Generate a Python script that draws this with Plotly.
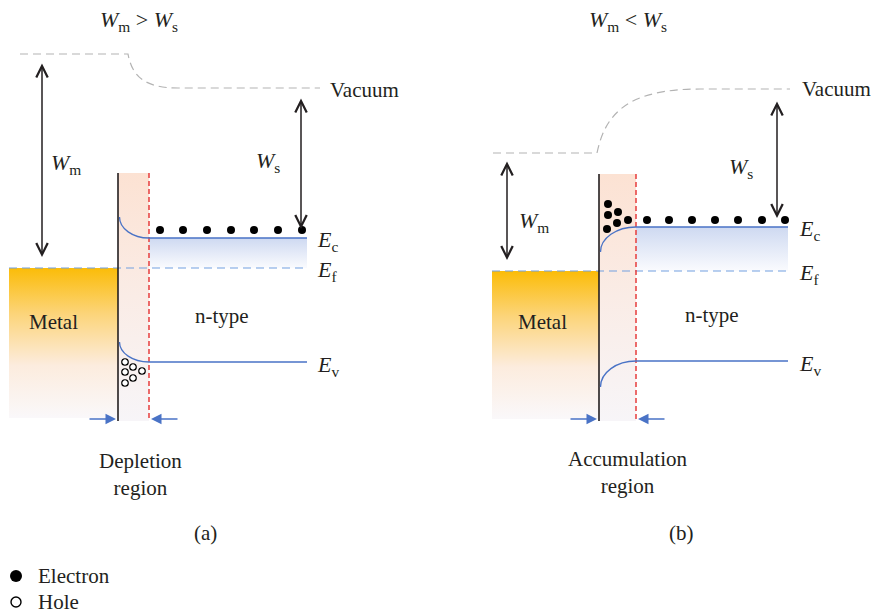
import plotly.graph_objects as go

# ---- canvas -------------------------------------------------------------
W, H = 875, 614
FONT = "Liberation Serif, Times New Roman, serif"
INK = "#231f20"
BAND_BLUE = "#4a73c6"
FERMI_BLUE = "#72a0e0"
ARROW_BLUE = "#4a73c6"
RED = "#e63c3c"
GREY = "#b3b3b3"

# ---- two band diagrams: (a) depletion, (b) accumulation ----------------
titles = ["<i>W</i><sub>m</sub> &gt; <i>W</i><sub>s</sub>",
          "<i>W</i><sub>m</sub> &lt; <i>W</i><sub>s</sub>"]
region_names = ["Depletion<br>region", "Accumulation<br>region"]
panel_tags = ["(a)", "(b)"]

metal_left_x = [9, 492]
interface_x = [118, 599]
depl_edge_x = [149, 636]
band_end_x = [307, 788]
junction_top_y = [173, 174]
junction_bottom_y = [421, 421]
metal_bottom_y = [418, 419]

fermi_y = [268, 271]
ec_y = [238, 227]
ec_wall_y = [217, 252]
ev_y = [362, 361]
ev_wall_y = [342, 387]

vac_start_x = [20, 493]
vac_bend_x = [128, 597]
vac_settle_x = [178, 700]
vac_end_x = [320, 790]
vac_metal_y = [54, 153]
vac_semi_y = [88, 89]

# work-function arrows: x, top, bottom
wm_arrow_x = [42, 507]
wm_arrow_y = [(62, 257), (160, 260)]
ws_arrow_x = [301, 777]
ws_arrow_y = [(97, 229), (100, 218)]

# carriers
electron_row_x = [[160, 183, 207, 231, 254, 278, 302],
                  [628, 647, 669, 692, 715, 738, 762, 785]]
electron_row_y = [230, 220]
electron_cluster_x = [608, 608, 618, 617, 607]
electron_cluster_y = [204, 215, 212, 223, 229]
hole_x = [125, 133, 142, 125, 133, 125]
hole_y = [362, 367, 371, 372, 378, 383]

# label positions
title_pos = [(139, 21), (628, 21)]
vacuum_pos = [(328, 90), (800, 89)]
wm_label_pos = [(66, 164), (534, 222)]
ws_label_pos = [(268, 162), (741, 168)]
level_label_x = [315, 797]
metal_label_pos = [(53, 322), (542, 322)]
ntype_label_pos = [(222, 316), (712, 315)]
region_label_pos = [(140, 474), (627, 472)]
tag_pos = [(205, 533), (681, 533)]
width_arrow_y = [419, 419]

legend_labels = ["Electron", "Hole"]
legend_y = [576, 602]

fig = go.Figure()
shapes = []
annotations = []


def add_gradient_box(x0, x1, y0, y1, scale):
    fig.add_trace(go.Scatter(
        x=[x0, x1, x1, x0, x0], y=[y0, y0, y1, y1, y0],
        mode="none", fill="toself", hoverinfo="skip", showlegend=False,
        fillgradient=dict(type="vertical", colorscale=scale, start=y0, stop=y1),
    ))


def text(x, y, s, size=21, xanchor="center"):
    annotations.append(dict(x=x, y=y, xref="x", yref="y", text=s, showarrow=False,
                            xanchor=xanchor, yanchor="middle",
                            font=dict(family=FONT, size=size, color=INK)))


def arrow(x_tip, y_tip, x_tail, y_tail, color, width, head, size, both=False):
    annotations.append(dict(
        x=x_tip, y=y_tip, ax=x_tail, ay=y_tail, xref="x", yref="y", axref="x", ayref="y",
        text="", showarrow=True, arrowcolor=color, arrowwidth=width,
        arrowhead=head, arrowsize=size, startarrowhead=head, startarrowsize=size,
        arrowside="end+start" if both else "end", standoff=0, startstandoff=0))


metal_scale = [[0, "rgb(251,188,8)"], [0.3, "rgb(252,212,120)"],
               [0.65, "rgb(252,236,222)"], [1, "rgb(250,248,250)"]]
depl_scale = [[0, "rgb(252,226,211)"], [0.5, "rgb(250,236,230)"], [1, "rgb(247,245,248)"]]
cb_scale = [[0, "rgb(206,217,241)"], [1, "rgb(250,251,254)"]]

for i in range(2):
    xi, xd, xe = interface_x[i], depl_edge_x[i], band_end_x[i]

    # filled regions
    add_gradient_box(metal_left_x[i], xi, fermi_y[i], metal_bottom_y[i], metal_scale)
    add_gradient_box(xi, xd, junction_top_y[i], junction_bottom_y[i], depl_scale)
    add_gradient_box(xd, xe, ec_y[i], fermi_y[i], cb_scale)

    # vacuum level
    vm, vs, xb, xs = vac_metal_y[i], vac_semi_y[i], vac_bend_x[i], vac_settle_x[i]
    d = xs - xb
    shapes.append(dict(
        type="path", xref="x", yref="y", layer="above",
        path=(f"M{vac_start_x[i]},{vm} L{xb},{vm} "
              f"C{xb + 0.08 * d},{vm + 0.62 * (vs - vm)} {xb + 0.3 * d},{vs} {xs},{vs} "
              f"L{vac_end_x[i]},{vs}"),
        line=dict(color=GREY, width=1.2, dash="8px,5px")))

    # Fermi level
    fig.add_trace(go.Scatter(x=[metal_left_x[i], xe], y=[fermi_y[i], fermi_y[i]], mode="lines",
                             line=dict(color=FERMI_BLUE, width=1.2, dash="8px,5px"),
                             hoverinfo="skip", showlegend=False))

    # conduction and valence bands (bent inside the junction region)
    for wall, flat in ((ec_wall_y[i], ec_y[i]), (ev_wall_y[i], ev_y[i])):
        x0 = xi + 1.5
        k = 0.552
        shapes.append(dict(
            type="path", xref="x", yref="y", layer="above",
            path=(f"M{x0},{wall} C{x0},{wall + k * (flat - wall)} "
                  f"{xd - k * (xd - x0)},{flat} {xd},{flat} L{xe},{flat}"),
            line=dict(color=BAND_BLUE, width=1.3)))

    # interface and depletion edge
    fig.add_trace(go.Scatter(x=[xi, xi], y=[junction_top_y[i], junction_bottom_y[i]], mode="lines",
                             line=dict(color=INK, width=1.6), hoverinfo="skip", showlegend=False))
    fig.add_trace(go.Scatter(x=[xd, xd], y=[junction_top_y[i], junction_bottom_y[i]], mode="lines",
                             line=dict(color=RED, width=1.5, dash="5px,3px"),
                             hoverinfo="skip", showlegend=False))

    # electrons along the conduction band
    fig.add_trace(go.Scatter(x=electron_row_x[i], y=[electron_row_y[i]] * len(electron_row_x[i]),
                             mode="markers", marker=dict(size=8, color="black"),
                             hoverinfo="skip", showlegend=False))

    # work-function arrows
    arrow(wm_arrow_x[i], wm_arrow_y[i][1], wm_arrow_x[i], wm_arrow_y[i][0], INK, 1.5, 5, 1.5, True)
    arrow(ws_arrow_x[i], ws_arrow_y[i][1], ws_arrow_x[i], ws_arrow_y[i][0], INK, 1.5, 5, 1.5, True)

    # junction width arrows
    arrow(xi - 2, width_arrow_y[i], xi - 30, width_arrow_y[i], ARROW_BLUE, 1.5, 2, 1.4)
    arrow(xd + 2, width_arrow_y[i], xd + 30, width_arrow_y[i], ARROW_BLUE, 1.5, 2, 1.4)

    # labels
    text(*title_pos[i], titles[i], size=22)
    text(*vacuum_pos[i], "Vacuum", xanchor="left")
    text(*wm_label_pos[i], "<i>W</i><sub>m</sub>", size=22)
    text(*ws_label_pos[i], "<i>W</i><sub>s</sub>", size=22)
    text(level_label_x[i], ec_y[i] + 3, "<i>E</i><sub>c</sub>", size=22, xanchor="left")
    text(level_label_x[i], fermi_y[i] + 3, "<i>E</i><sub>f</sub>", size=22, xanchor="left")
    text(level_label_x[i], ev_y[i] + 4, "<i>E</i><sub>v</sub>", size=22, xanchor="left")
    text(*metal_label_pos[i], "Metal")
    text(*ntype_label_pos[i], "n-type")
    text(*region_label_pos[i], region_names[i])
    text(*tag_pos[i], panel_tags[i])

# accumulated electrons and depleted holes
fig.add_trace(go.Scatter(x=electron_cluster_x, y=electron_cluster_y, mode="markers",
                         marker=dict(size=8, color="black"), hoverinfo="skip", showlegend=False))
fig.add_trace(go.Scatter(x=hole_x, y=hole_y, mode="markers",
                         marker=dict(size=6.5, color="white", line=dict(color="black", width=1.2)),
                         hoverinfo="skip", showlegend=False))

# key
fig.add_trace(go.Scatter(x=[16], y=[legend_y[0]], mode="markers",
                         marker=dict(size=12, color="black"), hoverinfo="skip", showlegend=False))
fig.add_trace(go.Scatter(x=[16], y=[legend_y[1]], mode="markers",
                         marker=dict(size=10, color="white", line=dict(color="black", width=1.4)),
                         hoverinfo="skip", showlegend=False))
for label, y in zip(legend_labels, legend_y):
    text(36, y, label, xanchor="left")

fig.update_layout(
    width=W, height=H, margin=dict(l=0, r=0, t=0, b=0),
    paper_bgcolor="white", plot_bgcolor="white",
    xaxis=dict(range=[0, W], visible=False, fixedrange=True),
    yaxis=dict(range=[H, 0], visible=False, fixedrange=True),
    shapes=shapes, annotations=annotations, showlegend=False,
)

fig.write_html("out.html")
